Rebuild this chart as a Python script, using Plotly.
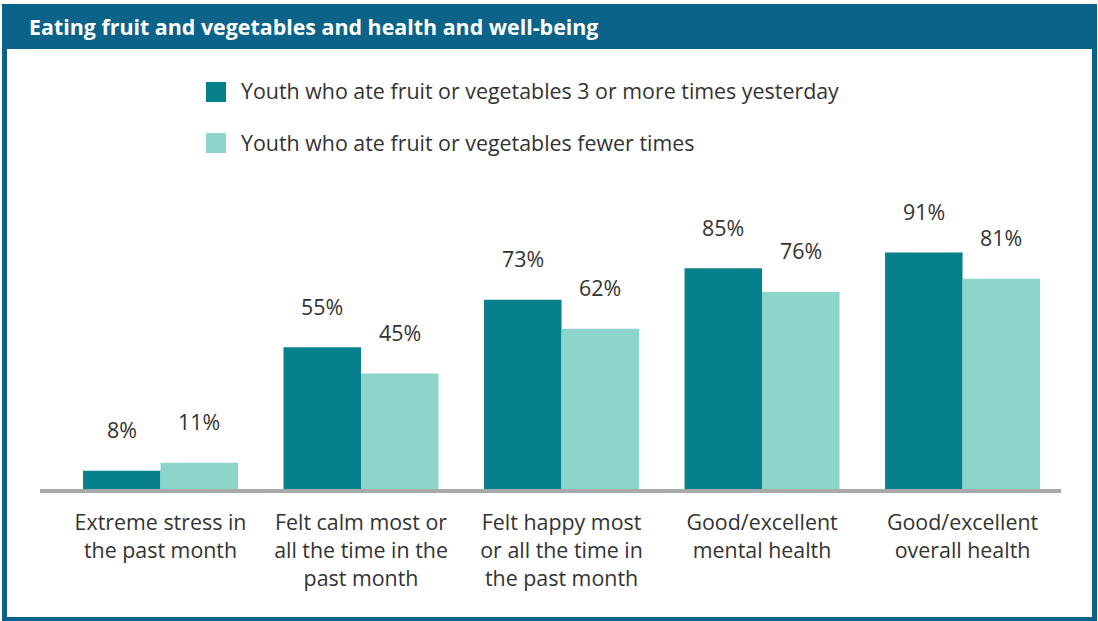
import plotly.graph_objects as go

# Survey outcomes by daily fruit/vegetable intake (percent of youth)
categories = [
    "Extreme stress in<br>the past month",
    "Felt calm most or<br>all the time in the<br>past month",
    "Felt happy most<br>or all the time in<br>the past month",
    "Good/excellent<br>mental health",
    "Good/excellent<br>overall health",
]
series_names = [
    "Youth who ate fruit or vegetables 3 or more times yesterday",
    "Youth who ate fruit or vegetables fewer times",
]
ate_3_plus = [8, 55, 73, 85, 91]
ate_fewer = [11, 45, 62, 76, 81]

W, H = 1098, 621
DARK = "#06808C"
LIGHT = "#8DD5CA"
FRAME = "#0B6389"
TEXT = "#333333"
FONT = "Open Sans"
FS = 21.4


def px_x(p):
    return p / W


def px_y(p):
    return 1 - p / H


x_idx = list(range(len(categories)))

fig = go.Figure()
fig.add_trace(go.Bar(x=x_idx, y=ate_3_plus, name=series_names[0],
                     marker=dict(color=DARK, line=dict(width=0)), showlegend=False))
fig.add_trace(go.Bar(x=x_idx, y=ate_fewer, name=series_names[1],
                     marker=dict(color=LIGHT, line=dict(width=0)), showlegend=False))

annotations = []
# value labels above each bar
group_w = 1 - 0.227
offsets = [-group_w / 4, group_w / 4]
for vals, off in zip([ate_3_plus, ate_fewer], offsets):
    for i, v in enumerate(vals):
        annotations.append(dict(
            x=i + off, y=v, xref="x", yref="y", text=f"{v}%",
            showarrow=False, yanchor="middle", yshift=41,
            font=dict(family=FONT, size=FS, color=TEXT)))

# title bar text
annotations.append(dict(
    x=px_x(27), y=px_y(27), xref="paper", yref="paper",
    text="<b>Eating fruit and vegetables and health and well-being</b>",
    showarrow=False, xanchor="left", yanchor="middle",
    font=dict(family=FONT, size=FS, color="white")))

# legend entries
legend_rows = [(92, DARK, series_names[0]), (143, LIGHT, series_names[1])]
shapes = [
    # outer frame and title bar
    dict(type="rect", xref="paper", yref="paper", layer="below",
         x0=px_x(2), x1=px_x(1097), y0=px_y(4), y1=px_y(621),
         fillcolor=FRAME, line=dict(width=0)),
    # white panel
    dict(type="rect", xref="paper", yref="paper", layer="below",
         x0=px_x(7), x1=px_x(1092), y0=px_y(49), y1=px_y(617),
         fillcolor="white", line=dict(width=0)),
    # baseline drawn over the foot of the bars
    dict(type="rect", xref="paper", yref="paper", layer="above",
         x0=px_x(40), x1=px_x(1061), y0=px_y(489), y1=px_y(493),
         fillcolor="#A8A9AB", line=dict(width=0)),
]
for cy, col, label in legend_rows:
    shapes.append(dict(type="rect", xref="paper", yref="paper",
                       x0=px_x(206), x1=px_x(226), y0=px_y(cy - 10), y1=px_y(cy + 10),
                       fillcolor=col, line=dict(width=0)))
    annotations.append(dict(
        x=px_x(239), y=px_y(cy - 1), xref="paper", yref="paper", text=label,
        showarrow=False, xanchor="left", yanchor="middle",
        font=dict(family=FONT, size=FS, color=TEXT)))

base_px = 491.7
top_px = base_px - 2.628 * 100

fig.update_layout(
    width=W, height=H,
    margin=dict(l=0, r=0, t=0, b=0),
    paper_bgcolor="white", plot_bgcolor="rgba(0,0,0,0)",
    barmode="group", bargap=0.227, bargroupgap=0,
    font=dict(family=FONT, size=FS, color=TEXT),
    xaxis=dict(
        domain=[px_x(40), px_x(1061)],
        range=[-0.601, 4.491],
        tickmode="array", tickvals=x_idx, ticktext=categories,
        showgrid=False, zeroline=False, showline=False, ticks="",
        ticklabelstandoff=16,
        tickfont=dict(family=FONT, size=FS, color=TEXT),
        fixedrange=True,
    ),
    yaxis=dict(
        domain=[px_y(base_px), px_y(top_px)],
        range=[0, 100],
        visible=False, fixedrange=True,
    ),
    shapes=shapes,
    annotations=annotations,
)

fig.write_html("out.html")
